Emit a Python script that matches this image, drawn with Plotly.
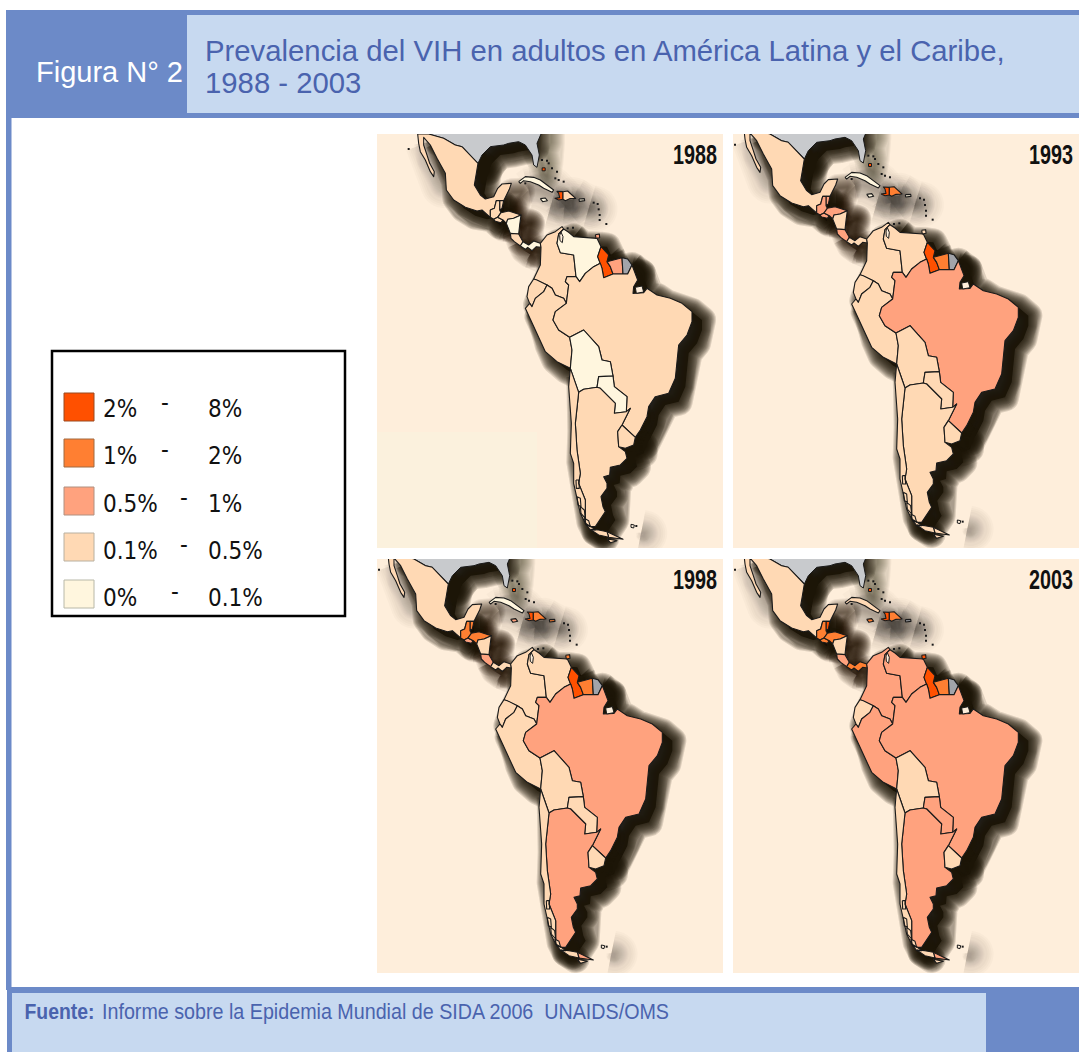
import plotly.graph_objects as go

WIDTH = 1079
HEIGHT = 1052

YEARS = ["1988", "1993", "1998", "2003"]

LEGEND_LOW = ["2%", "1%", "0.5%", "0.1%", "0%"]
LEGEND_HIGH = ["8%", "2%", "1%", "0.5%", "0.1%"]

# prevalence class colours, 0 = highest band, 4 = lowest, 5 = no data
CLASS_COLORS = ["#FF5000", "#FF7F32", "#FFA27E", "#FFD9B4", "#FFF6DE", "#A2A4AA"]
BORDER_COLOR = "#1A1A1A"
PANEL_COLOR = "#FEEEDB"
HEADER_BLUE = "#6C8AC8"
BOX_BLUE = "#C7D9F0"
TEXT_BLUE = "#4A63AE"
US_GREY = "#C8CACD"

COUNTRIES = [
    "Mexico", "Belize", "Guatemala", "El Salvador", "Honduras", "Nicaragua",
    "Costa Rica", "Panama", "Colombia", "Venezuela", "Guyana", "Suriname",
    "French Guiana", "Ecuador", "Peru", "Brazil", "Bolivia", "Paraguay",
    "Argentina", "Chile", "Uruguay", "Cuba", "Haiti", "Dominican Republic",
    "Jamaica", "Puerto Rico", "Trinidad",
]
CLASS_1988 = [3, 3, 3, 3, 3, 4, 3, 4, 3, 4, 0, 2, 5, 3, 3, 3, 4, 4, 3, 3, 3, 4, 0, 3, 4, 4, 2]
CLASS_1993 = [3, 2, 2, 2, 2, 3, 2, 3, 3, 3, 0, 1, 5, 3, 3, 2, 3, 3, 3, 3, 3, 4, 0, 1, 4, 4, 3]
CLASS_1998 = [3, 1, 1, 2, 1, 3, 2, 3, 3, 3, 0, 1, 5, 3, 3, 2, 3, 3, 2, 3, 3, 4, 0, 1, 2, 1, 1]
CLASS_2003 = [3, 0, 1, 1, 1, 3, 2, 1, 2, 2, 0, 1, 5, 3, 2, 2, 3, 2, 2, 3, 3, 3, 0, 1, 1, 5, 0]
YEAR_CLASSES = [CLASS_1988, CLASS_1993, CLASS_1998, CLASS_2003]

# outlines, in map units
USA = [(155, -60), (155, 12), (200, 25), (235, 45), (255, 50), (275, 70), (303, 100), (315, 75),
       (340, 50), (380, 45), (395, 40), (425, 35), (445, 45), (465, 75), (470, 105), (480, 112),
       (487, 75), (480, 40), (492, 12), (492, -60)]
USA_BODY = [(155, -60), (155, 12), (200, 25), (235, 45), (255, 50), (275, 70), (303, 100), (315, 75),
            (340, 50), (380, 45), (395, 40), (425, 35), (445, 30), (445, -60)]
FLORIDA = [(445, 30), (445, 45), (465, 75), (470, 105), (480, 112), (487, 75), (480, 40), (492, 12),
           (492, -60), (445, -60)]
MEXICO = [(122, 12), (155, 12), (200, 25), (235, 45), (255, 50), (275, 70), (303, 100), (298, 130),
          (292, 165), (310, 195), (325, 207), (350, 200), (362, 175), (375, 162), (403, 160),
          (397, 178), (385, 205), (380, 212), (358, 212), (352, 235), (340, 240), (340, 262),
          (315, 240), (300, 243), (265, 232), (230, 210), (208, 180), (205, 130), (180, 85),
          (160, 45), (140, 22), (140, 45), (150, 75), (158, 100), (172, 125), (170, 140),
          (160, 125), (145, 90), (130, 65), (125, 40)]
MEXICO_BODY = [(155, 12), (200, 25), (235, 45), (255, 50), (275, 70), (303, 100), (298, 130),
               (292, 165), (310, 195), (325, 207), (350, 200), (352, 235), (340, 262),
               (315, 240), (300, 243), (265, 232), (230, 210), (208, 180), (205, 130), (180, 85)]
YUCATAN = [(350, 200), (362, 175), (375, 162), (403, 160), (397, 178), (385, 205), (380, 212),
           (358, 212), (352, 235)]
BAJA = [(122, 12), (140, 22), (140, 45), (150, 75), (158, 100), (172, 125), (170, 140),
        (160, 125), (145, 90), (130, 65), (125, 40)]
BELIZE = [(368, 212), (380, 212), (375, 235), (368, 240)]
GUATEMALA = [(340, 240), (352, 235), (358, 212), (368, 212), (368, 240), (372, 248), (362, 262),
             (350, 268), (340, 262)]
EL_SALVADOR = [(350, 268), (362, 262), (378, 270), (372, 278), (355, 274)]
HONDURAS = [(362, 262), (372, 248), (395, 243), (420, 250), (432, 255), (410, 265), (392, 268),
            (388, 280), (378, 270)]
NICARAGUA = [(388, 280), (392, 268), (410, 265), (432, 255), (428, 285), (425, 312), (400, 310)]
COSTA_RICA = [(400, 310), (425, 312), (438, 335), (430, 348), (412, 335), (402, 325)]
PANAMA = [(430, 348), (438, 335), (455, 345), (470, 333), (490, 340), (492, 352), (478, 350),
          (465, 362), (452, 352), (445, 358)]
COLOMBIA = [(492, 352), (490, 340), (510, 315), (535, 305), (555, 290), (560, 297), (545, 312),
            (540, 340), (550, 368), (590, 375), (597, 440), (570, 440), (565, 455), (575, 465),
            (568, 520), (560, 505), (535, 495), (525, 475), (510, 465), (480, 450), (470, 447),
            (490, 405)]
VENEZUELA = [(560, 297), (575, 307), (590, 320), (640, 322), (660, 325), (672, 350), (662, 380),
             (670, 400), (650, 410), (625, 430), (608, 455), (597, 440), (590, 375), (550, 368),
             (540, 340), (545, 312)]
GUYANA = [(672, 350), (695, 375), (690, 395), (700, 410), (708, 432), (680, 443), (675, 415),
          (670, 400), (662, 380)]
SURINAME = [(690, 395), (735, 383), (738, 432), (708, 432), (700, 410)]
FRENCH_GUIANA = [(735, 383), (752, 387), (765, 405), (752, 432), (738, 432)]
ECUADOR = [(470, 447), (480, 450), (510, 465), (500, 485), (475, 505), (465, 530), (458, 520),
           (450, 500), (455, 470)]
PERU = [(458, 520), (465, 530), (475, 505), (500, 485), (510, 465), (525, 475), (535, 495),
        (560, 505), (568, 520), (535, 545), (528, 570), (545, 600), (578, 622), (585, 660),
        (580, 715), (540, 695), (505, 665), (485, 620), (465, 575), (445, 535)]
BRAZIL = [(597, 440), (608, 455), (625, 430), (650, 410), (670, 400), (675, 415), (680, 443),
          (708, 432), (738, 432), (752, 432), (765, 405), (782, 450), (770, 470), (768, 490),
          (800, 488), (810, 475), (840, 495), (880, 505), (915, 520), (945, 545), (945, 575),
          (930, 615), (905, 645), (900, 690), (895, 745), (875, 790), (835, 800), (815, 830),
          (810, 860), (790, 900), (775, 922), (735, 885), (760, 835), (748, 845), (750, 800),
          (712, 770), (708, 738), (700, 695), (675, 690), (665, 650), (620, 600), (578, 622),
          (545, 600), (528, 570), (535, 545), (568, 520), (575, 465), (565, 455), (570, 440)]
BOLIVIA = [(578, 622), (585, 660), (580, 715), (605, 787), (620, 778), (660, 772), (665, 740),
           (708, 738), (700, 695), (675, 690), (665, 650), (620, 600)]
PARAGUAY = [(660, 772), (665, 740), (708, 738), (712, 770), (750, 800), (748, 845), (712, 850),
            (715, 820), (670, 775)]
ARGENTINA = [(605, 787), (620, 778), (660, 772), (670, 775), (715, 820), (712, 850), (748, 845),
             (760, 835), (735, 885), (722, 905), (725, 950), (745, 965), (750, 985), (730, 1005),
             (700, 1012), (698, 1035), (680, 1040), (690, 1060), (690, 1075), (672, 1100),
             (678, 1130), (685, 1145), (665, 1175), (655, 1190), (642, 1190), (625, 1180),
             (625, 1110), (605, 1060), (610, 1030), (600, 960), (595, 880)]
ARG_FUEGO = [(690, 1205), (738, 1228), (695, 1222)]
CHILE = [(580, 715), (605, 787), (595, 880), (600, 960), (610, 1030), (605, 1060), (625, 1110),
         (625, 1180), (642, 1190), (655, 1200), (640, 1200), (625, 1180), (610, 1150), (600, 1100),
         (590, 1060), (590, 1000), (580, 970), (583, 880), (575, 770)]
CHILE_ISLANDS = [
    [(597, 1050), (605, 1050), (607, 1075), (598, 1075)],
    [(600, 1100), (610, 1105), (612, 1130), (603, 1125)],
    [(610, 1130), (622, 1140), (625, 1165), (612, 1150)],
    [(622, 1165), (635, 1172), (640, 1190), (628, 1185)],
    [(640, 1198), (665, 1200), (690, 1205), (695, 1222), (665, 1215)],
    [(690, 1226), (720, 1232), (700, 1238)],
]
URUGUAY = [(735, 885), (775, 922), (770, 945), (745, 955), (725, 950), (722, 905)]
CUBA = [(425, 155), (445, 140), (470, 142), (490, 150), (510, 165), (530, 180), (525, 187),
        (500, 175), (485, 165), (460, 155), (440, 152), (430, 160)]
HAITI = [(533, 205), (548, 203), (545, 190), (540, 184), (558, 185), (558, 208), (545, 210)]
DOMINICAN = [(558, 185), (572, 183), (585, 195), (596, 205), (578, 206), (565, 212), (558, 208)]
JAMAICA = [(490, 206), (505, 204), (511, 212), (497, 215)]
PUERTO_RICO = [(606, 207), (622, 206), (623, 212), (607, 214)]
TRINIDAD = [(655, 314), (667, 312), (668, 323), (657, 325)]
LAKE_MARACAIBO = [(552, 306), (558, 320), (556, 338), (549, 332), (548, 316)]
MARAJO = [(775, 472), (795, 468), (800, 486), (778, 490)]
FALKLANDS = [(762, 1183), (772, 1185), (770, 1194), (762, 1192)]

COUNTRY_OUTLINES = [
    [MEXICO], [BELIZE], [GUATEMALA], [EL_SALVADOR], [HONDURAS], [NICARAGUA],
    [COSTA_RICA], [PANAMA], [COLOMBIA], [VENEZUELA], [GUYANA], [SURINAME],
    [FRENCH_GUIANA], [ECUADOR], [PERU], [BRAZIL], [BOLIVIA], [PARAGUAY],
    [ARGENTINA, ARG_FUEGO], [CHILE] + CHILE_ISLANDS, [URUGUAY], [CUBA], [HAITI], [DOMINICAN],
    [JAMAICA], [PUERTO_RICO], [TRINIDAD],
]

# tiny islands, drawn as dots
ISLET_X = [95, 495, 510, 515, 525, 540, 535, 545, 560, 650, 662, 665, 668, 668, 688,
           572, 588, 445, 778]
ISLET_Y = [57, 90, 92, 100, 115, 125, 145, 150, 155, 218, 222, 238, 255, 270, 282,
           295, 293, 160, 1188]
RED_CAY_X = [500]
RED_CAY_Y = [118]

# left and top of the visible window of each map, map units
VIEW_X0 = [0, 89, 89, 89]
VIEW_Y0 = [12, 25, 25, 25]
VIEW_W = 1038
VIEW_H = 1242

# panel boxes in page pixels: left, top
PANEL_LEFT = [377, 733, 377, 733]
PANEL_TOP = [134, 134, 559, 559]
PANEL_W = 346
PANEL_H = 414

SHADOW_DX = 30
SHADOW_DY = 25
SHADOW_WIDTHS = list(range(2, 30, 2))


def fx(x):
    return x / WIDTH


def fy(y):
    return 1 - y / HEIGHT


def flatten(polygons, dx=0, dy=0):
    xs, ys = [], []
    for poly in polygons:
        xs += [p[0] + dx for p in poly] + [poly[0][0] + dx, None]
        ys += [p[1] + dy for p in poly] + [poly[0][1] + dy, None]
    return xs, ys


def rect(x0, y0, x1, y1, color, line=None, width=0, layer="above"):
    return dict(
        type="rect", xref="paper", yref="paper", layer=layer,
        x0=fx(x0), x1=fx(x1), y0=fy(y0), y1=fy(y1),
        fillcolor=color, line=dict(color=line, width=width),
    )


def label(x, y, text, size, color, family, xanchor="left"):
    return dict(
        xref="paper", yref="paper", x=fx(x), y=fy(y), text=text, showarrow=False,
        xanchor=xanchor, yanchor="middle", align="right" if xanchor == "right" else "left",
        borderpad=0, font=dict(size=size, color=color, family=family),
    )


def add_shadow(fig, polygons, xa, ya, alpha, widths, fill_alpha=0.0):
    sx, sy = flatten(polygons, SHADOW_DX, SHADOW_DY)
    if fill_alpha:
        fig.add_trace(go.Scatter(x=sx, y=sy, xaxis=xa, yaxis=ya, mode="lines", fill="toself",
                                 fillcolor=f"rgba(0,0,0,{fill_alpha})", line=dict(width=0),
                                 hoverinfo="skip"))
    for w in widths:
        fig.add_trace(go.Scatter(x=sx, y=sy, xaxis=xa, yaxis=ya, mode="lines",
                                 line=dict(color=f"rgba(25,18,5,{alpha})", width=w),
                                 hoverinfo="skip"))


fig = go.Figure()

# shape of the big land masses, without the thin parts that cast a weak shadow
heavy_land = [USA_BODY, MEXICO_BODY, COLOMBIA, VENEZUELA, GUYANA, SURINAME, FRENCH_GUIANA, ECUADOR,
              PERU, BRAZIL, BOLIVIA, PARAGUAY, ARGENTINA, CHILE, URUGUAY]
thin_land = [YUCATAN, BELIZE, GUATEMALA, EL_SALVADOR, HONDURAS, NICARAGUA, COSTA_RICA, PANAMA]
faint_land = [BAJA, CUBA, HAITI, DOMINICAN, JAMAICA, PUERTO_RICO, FALKLANDS]

for i, year in enumerate(YEARS):
    suffix = "" if i == 0 else str(i + 1)
    xa = "x" + suffix
    ya = "y" + suffix
    fig.update_layout({
        "xaxis" + suffix: dict(
            domain=[fx(PANEL_LEFT[i]), fx(PANEL_LEFT[i] + PANEL_W)],
            range=[VIEW_X0[i], VIEW_X0[i] + VIEW_W], visible=False, anchor=ya,
        ),
        "yaxis" + suffix: dict(
            domain=[fy(PANEL_TOP[i] + PANEL_H), fy(PANEL_TOP[i])],
            range=[VIEW_Y0[i] + VIEW_H, VIEW_Y0[i]], visible=False, anchor=xa,
        ),
    })

    # soft drop shadow: stacked translucent strokes
    add_shadow(fig, faint_land, xa, ya, 0.018, SHADOW_WIDTHS + [34, 38, 42, 46])
    add_shadow(fig, [FLORIDA], xa, ya, 0.045, SHADOW_WIDTHS)
    add_shadow(fig, thin_land, xa, ya, 0.065, SHADOW_WIDTHS)
    add_shadow(fig, heavy_land, xa, ya, 0.14, SHADOW_WIDTHS, fill_alpha=0.85)

    ux, uy = flatten([USA])
    fig.add_trace(go.Scatter(x=ux, y=uy, xaxis=xa, yaxis=ya, mode="lines", fill="toself",
                             fillcolor=US_GREY, line=dict(color=BORDER_COLOR, width=1), name="USA"))
    for name, outlines, cls in zip(COUNTRIES, COUNTRY_OUTLINES, YEAR_CLASSES[i]):
        cx, cy = flatten(outlines)
        fig.add_trace(go.Scatter(x=cx, y=cy, xaxis=xa, yaxis=ya, mode="lines", fill="toself",
                                 fillcolor=CLASS_COLORS[cls], name=name,
                                 line=dict(color=BORDER_COLOR, width=1.1)))
    wx, wy = flatten([LAKE_MARACAIBO, MARAJO, FALKLANDS])
    fig.add_trace(go.Scatter(x=wx, y=wy, xaxis=xa, yaxis=ya, mode="lines", fill="toself",
                             fillcolor=PANEL_COLOR, line=dict(color=BORDER_COLOR, width=1), hoverinfo="skip"))
    fig.add_trace(go.Scatter(x=ISLET_X, y=ISLET_Y, xaxis=xa, yaxis=ya, mode="markers",
                             marker=dict(color=BORDER_COLOR, size=2, symbol="square"), hoverinfo="skip"))
    fig.add_trace(go.Scatter(x=RED_CAY_X, y=RED_CAY_Y, xaxis=xa, yaxis=ya, mode="markers",
                             marker=dict(color=CLASS_COLORS[0], size=3, symbol="square",
                                         line=dict(color=BORDER_COLOR, width=1)), hoverinfo="skip"))

shapes = [
    # header, side stripe, footer
    rect(6, 10, WIDTH, 118, HEADER_BLUE),
    rect(187, 15, WIDTH, 113, BOX_BLUE),
    rect(6, 118, 11.5, 990, HEADER_BLUE),
    rect(7, 987, WIDTH, HEIGHT, HEADER_BLUE),
    rect(12, 993, 986, HEIGHT, BOX_BLUE),
    # legend frame
    rect(52, 351, 345, 616, "white", "black", 2.5),
    # paler corner of the first panel
    rect(377, 432, 537, 548, "#FBF1DD", layer="below"),
]

swatch_tops = [393, 439, 487, 533, 580]
row_centers = [408.5, 455.5, 503.5, 550.5, 597.5]
dash_x = [165, 165, 184, 184, 175]
swatch_edges = ["#9A4A20", "#A06A40", "#B09080", "#B8B0A0", "#B8B8A8"]
legend_font = "DejaVu Sans Condensed, Noto Sans"
annotations = []
for k in range(5):
    shapes.append(rect(64, swatch_tops[k], 94, swatch_tops[k] + 28, CLASS_COLORS[k], swatch_edges[k], 1))
    annotations.append(label(102, row_centers[k], LEGEND_LOW[k], 24, "#111111", legend_font))
    annotations.append(label(dash_x[k], row_centers[k] - 6, "-", 24, "#111111", legend_font, "center"))
    annotations.append(label(207, row_centers[k], LEGEND_HIGH[k], 24, "#111111", legend_font))

sans = "Liberation Sans"
annotations += [
    label(35, 72, "Figura N° 2", 29, "white", sans),
    label(203.5, 51, "Prevalencia del VIH en adultos en América Latina y el Caribe,", 29.3, TEXT_BLUE, sans),
    label(203.5, 83, "1988 - 2003", 29.3, TEXT_BLUE, sans),
    label(95, 1011, "<b>Fuente:</b>", 22, TEXT_BLUE, sans, "right"),
    label(101, 1011, "Informe sobre la Epidemia Mundial de SIDA 2006  UNAIDS/OMS", 22, TEXT_BLUE, sans),
]
for i, year in enumerate(YEARS):
    annotations.append(label(PANEL_LEFT[i] + PANEL_W - 5, PANEL_TOP[i] + 21, f"<b>{year}</b>", 27,
                             "#111111", sans, "right"))

fig.update_layout(
    width=WIDTH,
    height=HEIGHT,
    margin=dict(l=0, r=0, t=0, b=0),
    paper_bgcolor="white",
    plot_bgcolor=PANEL_COLOR,
    showlegend=False,
    shapes=shapes,
    annotations=annotations,
)

# the footer and the year labels are set in a condensed face in the original,
# and thick shadow strokes need round joins or they grow spikes
finish = """
document.body.style.margin = '0';
document.body.style.overflow = 'hidden';
document.querySelectorAll('.js-line').forEach(function (p) {
  p.style.strokeLinejoin = 'round';
  p.style.strokeMiterlimit = '1';
});
document.querySelectorAll('.annotation-text').forEach(function (t) {
  var s = t.textContent;
  var len = 0;
  if (/^\\d{4}$/.test(s)) len = 44;
  else if (s === 'Fuente:') len = 70;
  else if (s.indexOf('Informe') === 0) len = 567;
  if (len) {
    t.setAttribute('textLength', len);
    t.setAttribute('lengthAdjust', 'spacingAndGlyphs');
  }
});
"""
fig.write_html("out.html", config={"displayModeBar": False}, post_script=finish)
